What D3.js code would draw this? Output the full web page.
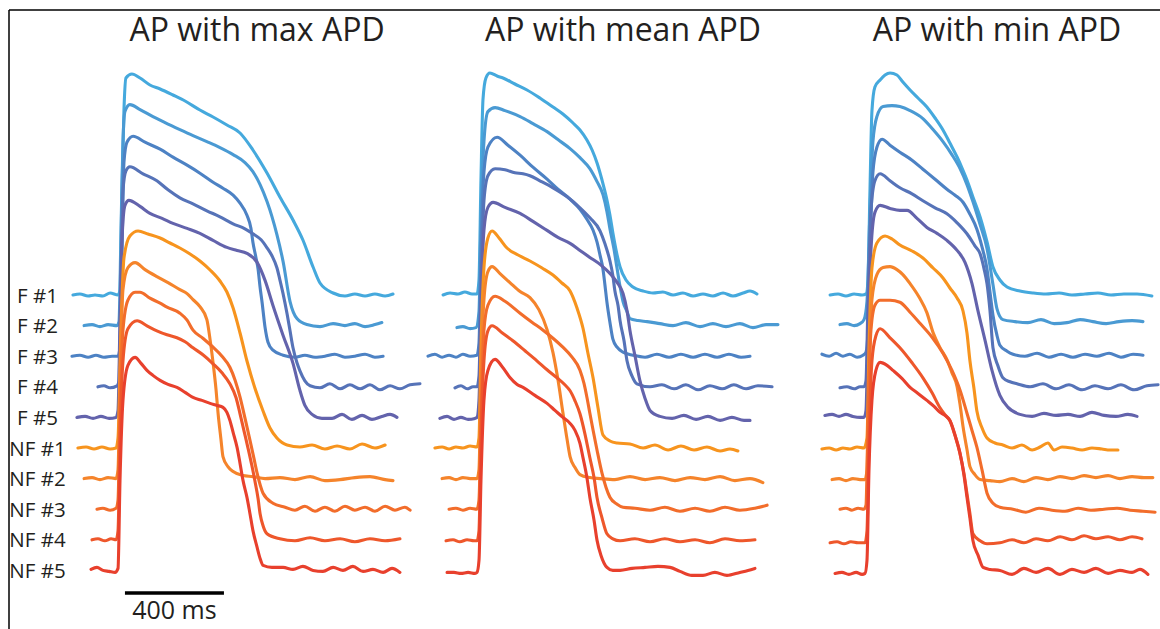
<!DOCTYPE html>
<html>
<head>
<meta charset="utf-8">
<script src="https://cdn.jsdelivr.net/npm/d3@7"></script>
<style>
  html, body { margin: 0; padding: 0; background: #fff; }
  svg { display: block; }
  text { font-family: "Open Sans", "Noto Sans", sans-serif; fill: #231f20; }
</style>
</head>
<body>
<svg id="chart" width="1160" height="629"></svg>
<script>
// ---------------- DATA ----------------
const panelTitles = ["AP with max APD", "AP with mean APD", "AP with min APD"];
const traceLabels = ["F #1", "F #2", "F #3", "F #4", "F #5", "NF #1", "NF #2", "NF #3", "NF #4", "NF #5"];
const scaleBarMs = 400;
const scaleBarLabel = "400 ms";

// each trace: [time (ms, 0 = upstroke), membrane potential (mV)]
const maxAPD = [
  [[-190,-85],[-162,-84.5],[-129,-85.5],[-101,-85],[-69,-85.5],[-40,-84],[-8,-85],[0,-82.5],[8,-32.5],[16,7.5],[24,23.5],[48,25.5],[81,23.5],[121,20],[162,18],[214,15],[263,12],[323,7.5],[376,4],[432,0],[485,-4],[537,-12.5],[594,-24],[646,-36],[699,-47.5],[739,-57.5],[780,-71],[808,-79],[861,-84],[909,-85.5],[949,-84.5],[990,-85.5],[1030,-84.5],[1071,-85.5],[1103,-84.5]],
  [[-145,-85],[-113,-84.5],[-81,-85.5],[-48,-84.5],[-12,-85],[-4,-83],[4,-38],[12,7],[20,22],[40,25.5],[81,23],[133,19.5],[182,16.5],[242,13],[295,10],[351,7],[404,4],[457,0.5],[505,-3.5],[537,-8],[566,-14.5],[594,-23],[614,-30.5],[634,-39.5],[659,-53],[687,-73],[715,-81.5],[755,-84.5],[808,-85.5],[861,-84],[909,-85],[949,-84],[990,-85.5],[1030,-84.5],[1058,-83.5]],
  [[-194,-85],[-162,-84.5],[-129,-85.5],[-97,-84.5],[-65,-85.5],[-32,-85],[-8,-85],[0,-80.5],[8,-33],[16,12],[28,22],[53,25],[101,22],[162,18.5],[214,14.5],[271,10.5],[323,6.5],[376,2],[416,-1],[457,-4.5],[485,-8.5],[513,-14.5],[529,-21],[537,-28],[549,-35.5],[558,-41.5],[566,-50.5],[574,-58],[586,-70.5],[598,-78],[618,-82],[659,-84.5],[707,-85.5],[747,-84.5],[788,-85.5],[828,-85],[868,-84],[909,-85.5],[949,-85],[990,-84],[1030,-85.5],[1063,-85]],
  [[-89,-85],[-65,-84.5],[-40,-85.5],[-12,-84.5],[-4,-82],[4,-32],[12,13],[24,23],[40,25],[93,21.5],[149,18],[194,13.5],[242,9.5],[295,6.5],[351,3],[404,0],[457,-3.5],[505,-6],[537,-8.5],[570,-11.5],[594,-15.5],[614,-19.5],[634,-25.5],[646,-31.5],[659,-38.5],[675,-48.5],[687,-57],[699,-65.5],[715,-73],[727,-77],[747,-82],[768,-84.5],[808,-85.5],[848,-83.5],[889,-86],[929,-84],[970,-86],[1010,-84],[1050,-86.5],[1091,-84.5],[1131,-86],[1172,-84],[1212,-83.5]],
  [[-174,-85],[-141,-84.5],[-109,-85.5],[-77,-84.5],[-44,-85.5],[-16,-85],[-8,-81.5],[0,-36.5],[8,3.5],[20,21],[36,23.5],[81,20.5],[121,17],[170,14.5],[214,12],[271,9.5],[323,7],[376,3.5],[432,0],[473,-1.5],[513,-3],[554,-7.5],[586,-16.5],[618,-29],[659,-44],[699,-58],[727,-71.5],[747,-79],[776,-83.5],[816,-85.5],[857,-85.5],[897,-83.5],[937,-86],[978,-84],[1018,-86],[1058,-84.5],[1091,-83.5],[1119,-85]],
  [[-170,-85],[-137,-84.5],[-105,-85.5],[-73,-84.5],[-40,-85.5],[-16,-85],[-8,-80],[4,-25],[16,10],[40,21],[73,23.5],[113,22],[162,20],[202,17.5],[242,15],[283,12],[323,8.5],[364,4],[404,-1.5],[432,-7],[457,-15],[485,-27.5],[513,-41.5],[545,-55],[578,-66.5],[606,-75],[634,-80],[675,-83.5],[727,-84.5],[776,-83.5],[828,-85.5],[877,-84],[929,-85.5],[978,-83],[1030,-85],[1071,-83.5]],
  [[-145,-85],[-113,-84.5],[-81,-85.5],[-48,-84.5],[-16,-85],[-8,-80.5],[0,-35.5],[12,9.5],[32,20.5],[61,23],[101,19.5],[149,16],[194,13],[242,9.5],[271,7.5],[295,4.5],[323,1],[351,-5.5],[364,-15.5],[376,-27],[388,-40.5],[396,-52],[408,-65.5],[416,-74],[436,-79],[457,-81.5],[497,-83.5],[537,-84],[586,-85],[646,-84.5],[707,-85.5],[768,-84],[828,-86],[889,-85.5],[949,-84.5],[1010,-84],[1071,-85.5],[1103,-86]],
  [[-93,-85],[-69,-84.5],[-40,-85.5],[-16,-84.5],[-8,-80.5],[0,-35.5],[12,4.5],[32,19.5],[61,23.5],[81,23.5],[121,20.5],[162,18],[190,16],[242,13],[271,9.5],[295,4.5],[335,0.5],[376,-4],[412,-8.5],[444,-14],[465,-20.5],[485,-29],[505,-39.5],[525,-50.5],[541,-59.5],[554,-67],[578,-77],[618,-82],[667,-84],[707,-85.5],[747,-83.5],[788,-86],[828,-84],[868,-86],[909,-83.5],[949,-85.5],[990,-84],[1030,-86],[1071,-83.5],[1111,-85.5],[1151,-84],[1172,-85.5]],
  [[-113,-85],[-89,-84.5],[-61,-85.5],[-36,-84.5],[-16,-85],[-8,-80.5],[0,-35.5],[12,4.5],[32,20.5],[69,24.5],[109,22],[149,19.5],[190,17.5],[230,16],[263,14],[295,11],[335,7.5],[376,3],[412,-1.5],[444,-7],[469,-14],[485,-22],[501,-30.5],[517,-39],[533,-48],[545,-55.5],[558,-64.5],[566,-72],[578,-78],[594,-82],[646,-84.5],[707,-85.5],[768,-84],[828,-85.5],[889,-84.5],[949,-86],[1010,-84.5],[1071,-85.5],[1131,-84.5]],
  [[-117,-84.5],[-93,-83.5],[-69,-85],[-44,-85.5],[-20,-86],[-8,-84],[0,-40],[12,0],[32,17.5],[61,21.5],[85,18.5],[109,15],[133,12.5],[162,10],[194,8],[230,6.5],[263,4],[295,1.5],[331,0],[364,-1.5],[392,-2.5],[416,-3.5],[432,-6],[444,-10],[457,-16],[473,-23.5],[485,-31.5],[497,-40],[513,-48.5],[525,-56.5],[537,-65],[554,-73.5],[566,-79],[578,-82.5],[614,-83.5],[659,-83.5],[699,-84.5],[739,-83],[780,-85],[820,-85.5],[861,-83.5],[901,-85],[941,-83],[982,-85.5],[1022,-84.5],[1063,-86],[1099,-84],[1131,-86]]
];

const meanAPD = [
  [[-141,-85],[-113,-84],[-81,-84.5],[-53,-83.5],[-24,-84.5],[-4,-84.5],[4,-77.5],[12,-27.5],[20,12.5],[32,23.5],[48,26],[77,24.5],[101,23.5],[149,20.5],[198,17.5],[250,13.5],[303,9],[343,5.5],[384,1],[412,-2.5],[440,-7.5],[461,-12.5],[481,-19],[501,-27.5],[521,-37.5],[533,-45],[545,-54],[562,-65],[574,-71],[598,-77.5],[626,-81],[667,-83],[707,-84],[747,-83.5],[788,-85],[828,-84],[869,-85.5],[909,-84.5],[949,-85.5],[990,-84],[1030,-85.5],[1071,-84],[1099,-83],[1127,-84.5]],
  [[-85,-86],[-61,-85.5],[-32,-86.5],[-8,-86],[4,-78],[12,-33],[24,7],[40,22],[69,24],[109,22.5],[170,19.5],[222,16],[279,12],[323,8],[372,3.5],[412,-1],[452,-6.5],[481,-13],[505,-19.5],[521,-28],[533,-36.5],[549,-46.5],[562,-56.5],[574,-65.5],[586,-73],[602,-78],[614,-81.5],[646,-82.5],[683,-83],[735,-84],[788,-85],[840,-83.5],[897,-85.5],[949,-84],[1002,-85.5],[1058,-84],[1111,-86],[1164,-84.5],[1212,-84.5]],
  [[-202,-85],[-174,-84],[-145,-85.5],[-117,-84.5],[-89,-85.5],[-61,-84],[-32,-85],[-4,-84.5],[4,-78.5],[12,-33],[24,7],[40,19.5],[77,24.5],[121,20.5],[170,15.5],[222,9.5],[279,3.5],[323,-1.5],[372,-6.5],[412,-11.5],[440,-16.5],[465,-22],[481,-28],[493,-34.5],[505,-41.5],[513,-49.5],[521,-58],[533,-68],[545,-76.5],[562,-80.5],[586,-83],[626,-84.5],[675,-85.5],[723,-84],[772,-85.5],[820,-84],[869,-85.5],[917,-84],[966,-85.5],[1014,-84],[1063,-85.5],[1099,-85]],
  [[-93,-85.5],[-69,-84.5],[-44,-86],[-20,-85],[-4,-85],[4,-79.5],[12,-37],[24,8],[40,20.5],[69,24],[109,23.5],[149,22],[182,21.5],[210,20.5],[250,18],[303,14.5],[360,10],[412,4.5],[452,-0.5],[493,-7],[513,-13.5],[533,-22],[545,-29.5],[553,-37],[566,-44.5],[574,-52],[590,-62],[602,-72],[622,-79.5],[642,-83.5],[695,-85],[743,-84],[792,-86],[840,-84],[889,-86.5],[937,-84.5],[986,-86],[1034,-84],[1083,-86],[1131,-84.5],[1188,-85]],
  [[-154,-85.5],[-125,-84.5],[-97,-86],[-69,-85],[-40,-86],[-12,-85.5],[-4,-85],[4,-76.5],[12,-31.5],[24,8.5],[40,20],[61,22.5],[109,20],[170,17],[222,13],[279,8.5],[323,5],[372,2],[412,-1.5],[452,-5],[493,-8.5],[533,-13],[562,-17.5],[586,-23],[602,-31.5],[614,-41.5],[634,-54],[654,-66.5],[675,-75.5],[695,-81.5],[735,-84.5],[784,-85.5],[832,-84],[881,-86],[929,-84.5],[978,-86.5],[1026,-85],[1075,-86.5],[1099,-86.5]],
  [[-174,-85],[-145,-84.5],[-117,-85.5],[-89,-84.5],[-61,-85],[-32,-84],[-4,-84.5],[4,-80],[12,-35],[24,5],[40,20],[57,23.5],[85,20],[117,15],[162,11.5],[210,8.5],[259,5],[303,1.5],[339,-2.5],[372,-6.5],[400,-15],[424,-25],[444,-37.5],[465,-50],[485,-65],[505,-78.5],[533,-81.5],[562,-82.5],[614,-83],[667,-85],[715,-83.5],[768,-86],[820,-84],[873,-86],[925,-84.5],[978,-86.5],[1018,-85.5],[1050,-86.5]],
  [[-145,-85],[-117,-84.5],[-89,-85.5],[-61,-84.5],[-32,-85],[-4,-85],[4,-80.5],[12,-35.5],[24,4.5],[40,18.5],[57,21],[89,17.5],[129,13],[170,8.5],[210,5.5],[246,-0.5],[279,-10.5],[303,-22],[323,-35.5],[343,-52],[360,-65.5],[372,-74],[392,-79.5],[412,-83],[452,-84.5],[493,-85],[553,-85.5],[614,-84],[675,-85.5],[735,-84.5],[796,-86],[857,-84.5],[917,-85.5],[978,-84],[1038,-86],[1099,-85],[1151,-87]],
  [[-117,-85],[-89,-84.5],[-61,-85.5],[-32,-84.5],[-4,-85],[4,-80.5],[12,-40.5],[24,4.5],[40,17],[69,21.5],[109,19],[170,13],[218,8.5],[263,4.5],[303,0.5],[343,-4],[380,-9],[412,-15.5],[428,-22],[440,-29],[452,-37],[465,-45.5],[481,-55.5],[501,-67],[517,-74],[533,-79],[562,-82.5],[586,-84],[634,-84.5],[695,-85.5],[755,-84],[816,-86],[877,-84.5],[937,-86],[998,-84],[1058,-85.5],[1119,-84.5],[1168,-83]],
  [[-129,-85.5],[-101,-85],[-73,-86],[-44,-85],[-16,-85.5],[-4,-85.5],[4,-80.5],[12,-35.5],[24,4.5],[40,19.5],[57,22],[97,18.5],[141,14.5],[190,9.5],[238,4.5],[279,0],[319,-4],[351,-7.5],[372,-10.5],[392,-15.5],[412,-22],[432,-32],[452,-44],[469,-54],[481,-64],[501,-74],[521,-82],[545,-84.5],[574,-85.5],[634,-84.5],[695,-86],[755,-84.5],[816,-86],[877,-85],[937,-86.5],[998,-84.5],[1058,-85.5],[1119,-85]],
  [[-125,-86],[-97,-86],[-69,-86.5],[-40,-86],[-12,-86.5],[-4,-86],[4,-80],[12,-40],[24,0],[40,15],[69,20.5],[97,17],[129,11.5],[158,8],[182,6.5],[230,2.5],[279,-1.5],[311,-5],[343,-8.5],[372,-11.5],[392,-15],[412,-21.5],[424,-28.5],[440,-38.5],[452,-48.5],[469,-60],[481,-70],[497,-77.5],[521,-83.5],[545,-85],[574,-85],[622,-84],[675,-83.5],[727,-83],[776,-83.5],[816,-85.5],[864,-87.5],[909,-87.5],[957,-86],[1006,-87.5],[1058,-86],[1091,-85],[1119,-84]]
];

const minAPD = [
  [[-145,-85],[-113,-84.5],[-81,-85.5],[-48,-84.5],[-16,-85],[0,-84.5],[8,-78],[16,-33],[24,7],[36,19],[57,22.5],[77,25],[97,26],[125,25],[149,21.5],[178,17.5],[210,13.5],[246,9],[279,3.5],[311,-2.5],[339,-9],[368,-16],[388,-21.5],[408,-27.5],[432,-36],[461,-46],[489,-58.5],[513,-71],[541,-77.5],[570,-81],[622,-83],[675,-84],[727,-84.5],[780,-84],[832,-85],[885,-84.5],[937,-84],[990,-85],[1042,-84.5],[1095,-84.5],[1155,-85.5]],
  [[-105,-84.5],[-77,-84],[-48,-85],[-24,-84],[-8,-82],[4,-73],[16,-28],[28,7],[44,19.5],[69,24.5],[105,25],[137,24.5],[178,22.5],[230,18.5],[271,13],[311,7],[347,0.5],[380,-6.5],[408,-14.5],[432,-23],[461,-34.5],[489,-46.5],[513,-64.5],[529,-76.5],[553,-82],[602,-83],[654,-83.5],[707,-82],[760,-84],[812,-83.5],[865,-82],[917,-83],[970,-84],[1022,-83],[1075,-82.5],[1119,-83]],
  [[-178,-84],[-149,-85],[-121,-83.5],[-93,-85],[-65,-84],[-36,-85.5],[-12,-84.5],[0,-83],[8,-73],[16,-33],[28,7],[44,19.5],[65,23.5],[97,20.5],[137,17],[186,13],[230,8.5],[279,3.5],[327,-1.5],[360,-4.5],[392,-8],[420,-14],[448,-21.5],[469,-30.5],[489,-41.5],[501,-53],[513,-64.5],[529,-74.5],[541,-79.5],[570,-82.5],[594,-84],[642,-85],[691,-83.5],[739,-85.5],[788,-84],[836,-85.5],[885,-84],[933,-85],[982,-83.5],[1030,-85.5],[1079,-84],[1119,-84.5]],
  [[-105,-85.5],[-77,-85],[-48,-86],[-24,-85],[-8,-85],[0,-82],[8,-42],[20,3],[36,18],[57,21.5],[97,18],[137,14.5],[186,11.5],[230,8],[279,4.5],[327,1.5],[368,-3],[408,-8.5],[440,-14.5],[461,-18.5],[477,-26],[489,-33.5],[501,-47],[513,-65.5],[533,-74.5],[553,-80.5],[582,-82.5],[610,-83.5],[663,-85],[715,-83.5],[768,-86],[820,-84],[873,-86.5],[925,-84.5],[978,-86],[1030,-84],[1083,-86.5],[1135,-84.5],[1180,-84]],
  [[-166,-84],[-137,-83.5],[-109,-84.5],[-81,-83.5],[-53,-84.5],[-24,-85],[-8,-85],[0,-81.5],[8,-41.5],[20,-1.5],[36,17.5],[57,21],[97,19.5],[137,18.5],[166,18.5],[206,14.5],[246,10],[287,7],[327,3.5],[368,-1.5],[400,-7.5],[428,-18],[452,-31.5],[481,-46.5],[509,-61.5],[541,-74],[574,-80],[622,-83.5],[671,-84.5],[719,-83],[768,-84],[816,-83.5],[865,-84.5],[913,-82.5],[962,-84],[1010,-84.5],[1058,-83.5],[1095,-84.5]],
  [[-178,-85.5],[-149,-85],[-121,-86],[-93,-85],[-65,-85.5],[-36,-84.5],[-8,-85],[4,-80],[12,-35],[24,5],[44,17.5],[77,21],[105,19.5],[137,16.5],[186,13.5],[230,10],[271,5],[311,0],[339,-5],[368,-10],[392,-16.5],[408,-27.5],[420,-41.5],[436,-55],[448,-66.5],[469,-75],[489,-80],[521,-82.5],[553,-83.5],[590,-85],[630,-83.5],[671,-86],[703,-84.5],[735,-82.5],[760,-86],[792,-84.5],[832,-85],[873,-86],[913,-85],[953,-85.5],[986,-86],[1018,-86]],
  [[-137,-85.5],[-109,-85],[-81,-86],[-53,-85],[-24,-85.5],[-4,-85.5],[4,-80.5],[12,-35.5],[24,4.5],[44,17],[69,20.5],[97,21],[125,19.5],[149,17],[178,12.5],[218,5],[246,-2],[271,-12],[299,-19.5],[327,-25.5],[347,-32],[368,-39],[380,-48],[392,-59],[408,-70.5],[420,-79],[440,-83],[461,-85.5],[501,-86],[541,-86.5],[590,-85],[638,-86.5],[687,-84.5],[735,-85.5],[784,-84],[832,-85],[881,-83.5],[929,-84.5],[978,-83.5],[1026,-85],[1075,-84],[1123,-84.5],[1159,-84.5]],
  [[-105,-85],[-81,-84.5],[-57,-85.5],[-32,-84.5],[-8,-85],[0,-83],[8,-40.5],[20,4.5],[36,17],[57,19.5],[97,19.5],[137,18.5],[178,13.5],[218,8],[267,1],[311,-7],[347,-15.5],[380,-25.5],[408,-37],[428,-45.5],[448,-54],[469,-65.5],[489,-77],[513,-82],[541,-84],[594,-85],[646,-86.5],[699,-84.5],[751,-85.5],[804,-86],[857,-84.5],[909,-85.5],[962,-85],[1014,-84.5],[1067,-85.5],[1119,-86],[1168,-86.5]],
  [[-145,-86.5],[-117,-86],[-89,-87],[-61,-86],[-32,-86.5],[-4,-86.5],[4,-80.5],[12,-35.5],[24,4.5],[40,17],[57,20.5],[97,16],[137,11],[186,3.5],[230,-4],[267,-11.5],[299,-19],[319,-22.5],[339,-25.5],[360,-33],[380,-42],[396,-52],[408,-62],[420,-72],[432,-82],[461,-85.5],[489,-87],[541,-86.5],[590,-85],[638,-86.5],[687,-84.5],[735,-85.5],[784,-83.5],[832,-85],[881,-83],[929,-84.5],[978,-83.5],[1026,-85],[1075,-83.5],[1115,-84.5]],
  [[-125,-86.5],[-97,-86],[-69,-87],[-40,-86],[-16,-87],[-4,-86.5],[4,-80],[12,-35],[24,0],[40,15],[57,19],[85,17.5],[109,15],[145,11],[178,6.5],[210,3.5],[246,0],[275,-3],[299,-6],[319,-7.5],[339,-10],[360,-17.5],[380,-26.5],[396,-37.5],[408,-48.5],[420,-59],[432,-70],[453,-77.5],[473,-83.5],[501,-84.5],[541,-85],[590,-87],[638,-84],[687,-86],[735,-84],[784,-87],[832,-84.5],[881,-86],[929,-84],[978,-86.5],[1026,-85],[1075,-86],[1107,-84.5],[1139,-87]]
];

// ---------------- STYLE / LAYOUT ----------------
const traceColors = ["#45a9dd", "#4a9ad3", "#4d82c4", "#5673b8", "#6363ac",
                     "#f7941e", "#f5842b", "#f26d2b", "#ee572b", "#e8402d"];
const panels = [maxAPD, meanAPD, minAPD];
const panelOrigin = [120, 478, 866];     // x pixel of upstroke in each panel
const pxPerMs = 99 / 400;
const traceSpacing = 30.6;
const titleCenter = [257, 623, 997];

const svg = d3.select("#chart");

// frame lines
svg.append("line").attr("x1", 9).attr("y1", 10).attr("x2", 1160).attr("y2", 10)
  .attr("stroke", "#000").attr("stroke-width", 1.5);
svg.append("line").attr("x1", 9).attr("y1", 10).attr("x2", 9).attr("y2", 629)
  .attr("stroke", "#000").attr("stroke-width", 1.5);

const y = d3.scaleLinear().domain([-85, 25]).range([295, 75]);

panels.forEach((traces, p) => {
  const x0 = panelOrigin[p];
  const x = d3.scaleLinear().domain([0, 1000]).range([x0, x0 + 1000 * pxPerMs]);
  const line = d3.line().x(d => x(d[0])).y(d => y(d[1])).curve(d3.curveMonotoneX);
  const g = svg.append("g");
  traces.forEach((tr, i) => {
    g.append("path")
      .datum(tr)
      .attr("d", line)
      .attr("transform", `translate(0,${i * traceSpacing})`)
      .attr("fill", "none")
      .attr("stroke", traceColors[i])
      .attr("stroke-width", 3.1)
      .attr("stroke-linejoin", "round")
      .attr("stroke-linecap", "round");
  });
  svg.append("text")
    .attr("x", titleCenter[p]).attr("y", 41)
    .attr("text-anchor", "middle")
    .attr("font-size", 32)
    .text(panelTitles[p]);

  if (p === 0) {
    // scale bar
    const xb0 = x(20), xb1 = x(20 + scaleBarMs);
    svg.append("line").attr("x1", xb0).attr("x2", xb1).attr("y1", 593).attr("y2", 593)
      .attr("stroke", "#000").attr("stroke-width", 3.5);
    svg.append("text").attr("x", (xb0 + xb1) / 2).attr("y", 619)
      .attr("text-anchor", "middle").attr("font-size", 25).text(scaleBarLabel);
  }
});

// trace labels
traceLabels.forEach((lab, i) => {
  svg.append("text")
    .attr("x", 37.5).attr("y", y(-85) + i * traceSpacing + 7.5)
    .attr("text-anchor", "middle")
    .attr("font-size", 20.5)
    .text(lab);
});
</script>
</body>
</html>
